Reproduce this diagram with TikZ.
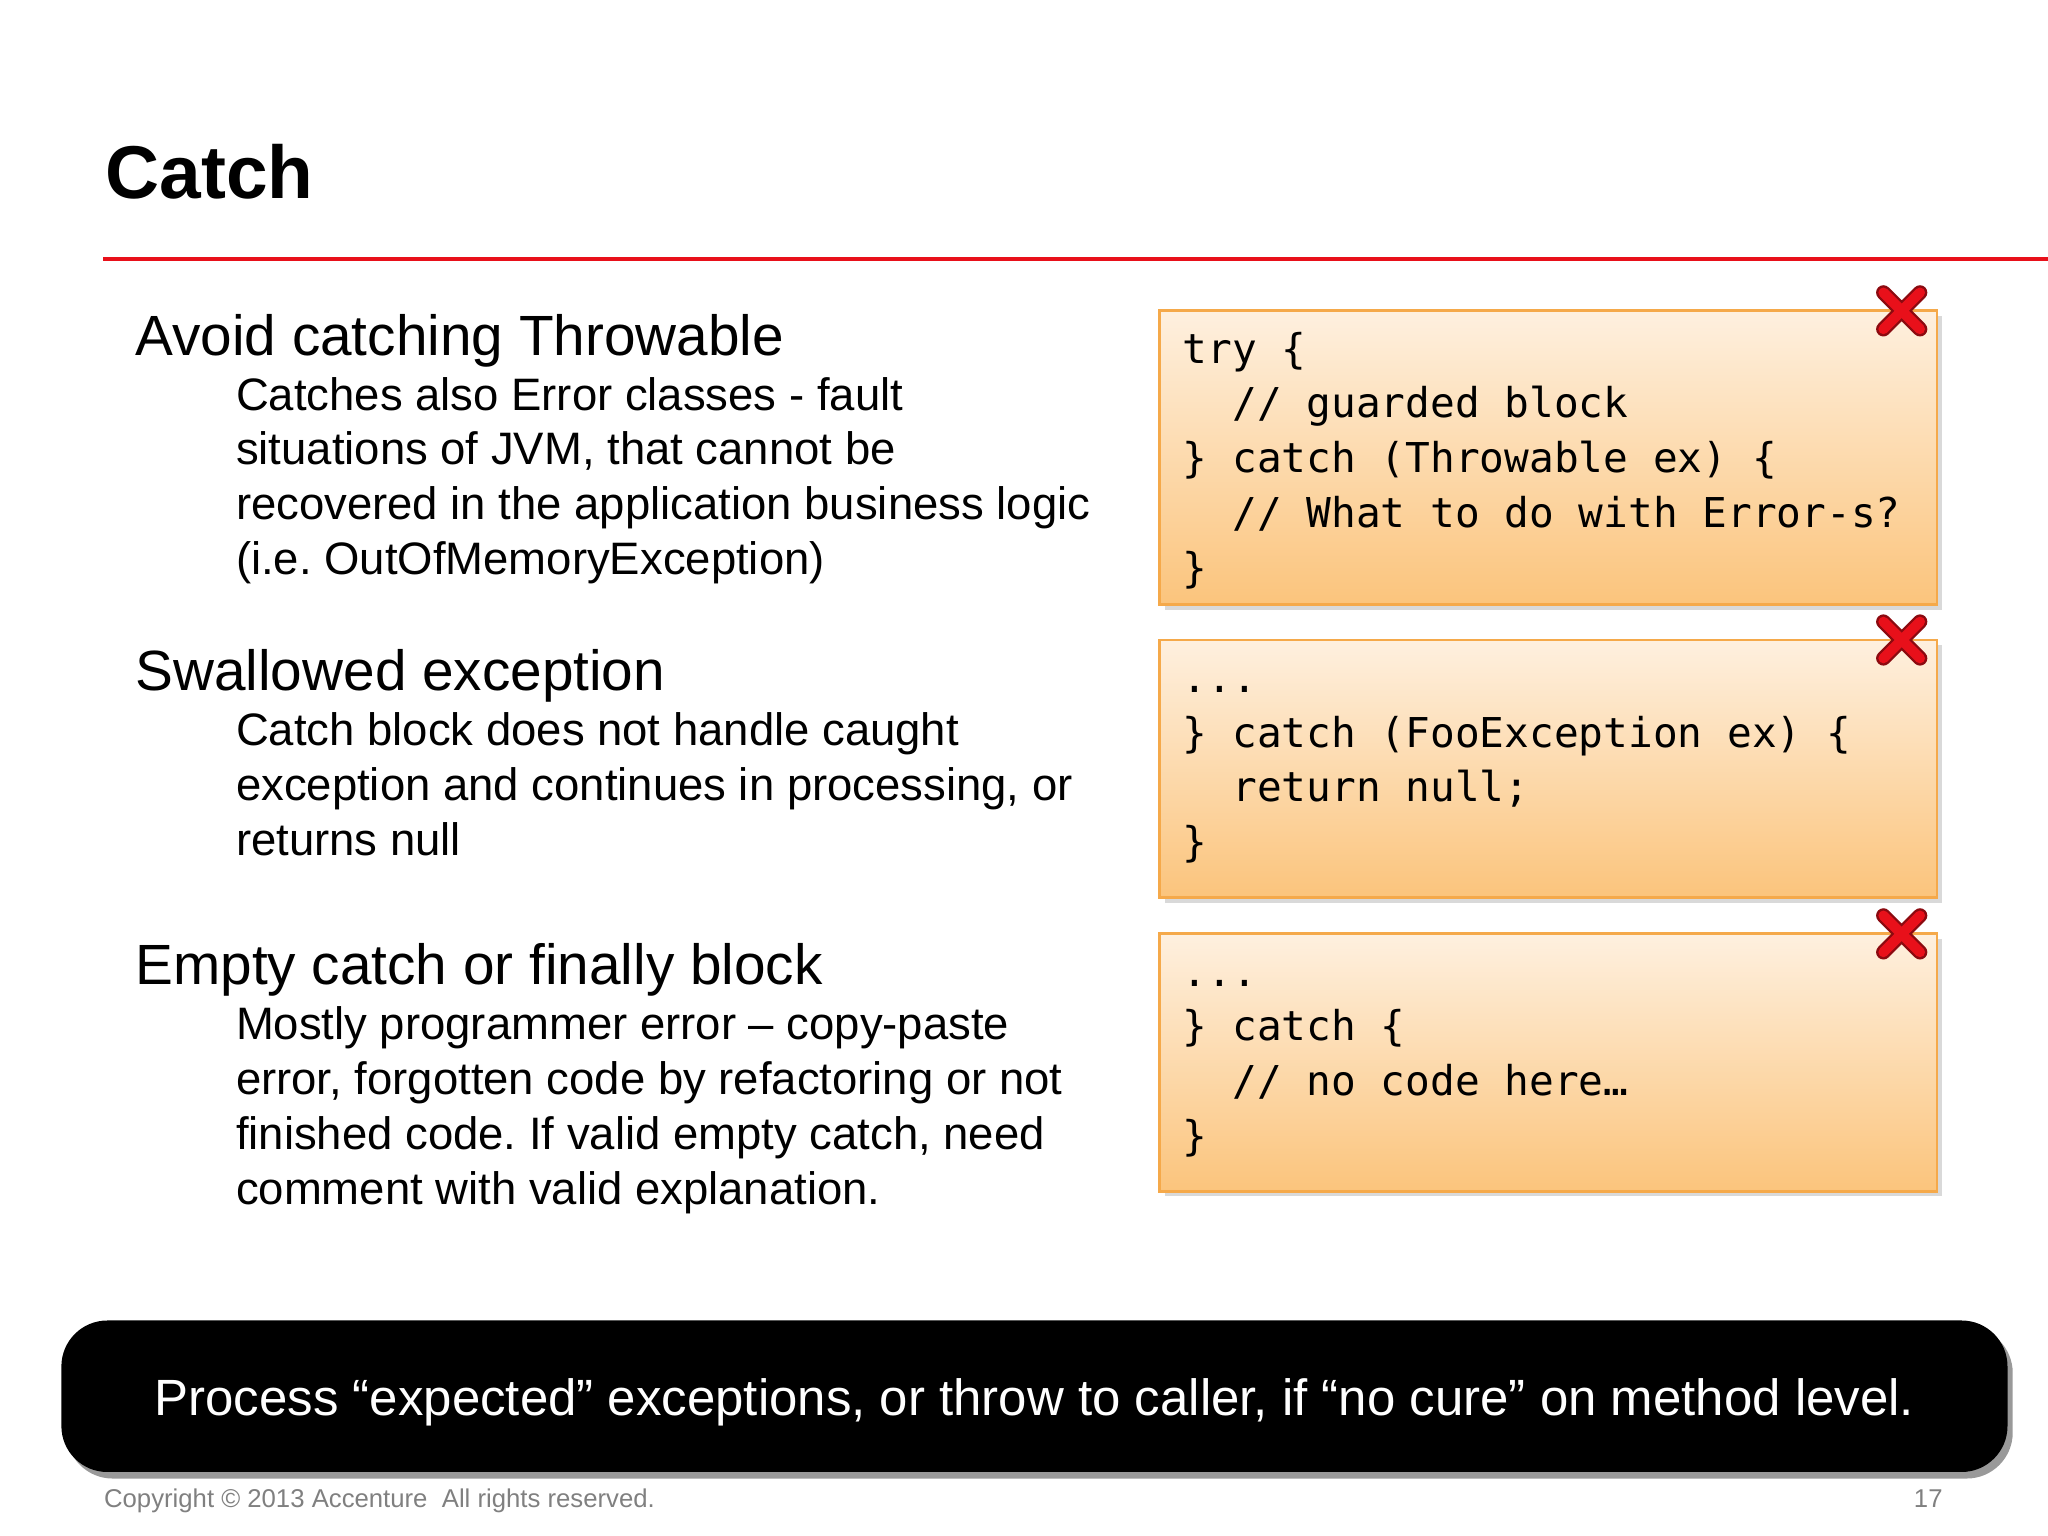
\documentclass[tikz,border=0pt]{standalone}
\usepackage{fontspec}
\setmainfont{Liberation Sans}
\newfontfamily\codefont{DejaVu Sans Mono}
\usetikzlibrary{shadows}
\frenchspacing
\definecolor{boxedge}{HTML}{F5A94A}
\definecolor{boxtop}{HTML}{FEF0DF}
\definecolor{boxbot}{HTML}{FBC47C}
\definecolor{xred}{HTML}{E8101A}
\tikzset{
 px/.style={x=0.01cm,y=-0.01cm},
 head/.style={anchor=base west,font=\fontsize{12.35}{14}\selectfont,inner sep=0},
 body/.style={anchor=base west,font=\fontsize{9.9}{12}\selectfont,inner sep=0},
 code/.style={anchor=base west,font=\codefont\fontsize{8.95}{12}\selectfont,inner sep=0},
 codebox/.style={draw=boxedge,line width=0.6pt,top color=boxtop,bottom color=boxbot,drop shadow={opacity=0.3,shadow xshift=0.4mm,shadow yshift=-0.4mm}},
}
\newcommand{\redx}[2]{%
 \draw[line width=3.2pt,color=xred!60!black,line cap=round] (#1-14,#2-14) -- (#1+14,#2+14) (#1-14,#2+14) -- (#1+14,#2-14);
 \draw[line width=2.2pt,color=xred,line cap=round] (#1-14,#2-14) -- (#1+14,#2+14) (#1-14,#2+14) -- (#1+14,#2-14);}
\begin{document}
\begin{tikzpicture}[px]
\useasboundingbox (0,0) rectangle (1568,1176);
\node[anchor=base west,inner sep=0,font=\bfseries\fontsize{16.3}{20}\selectfont] (title) at (80,152) {Catch};
\draw[xred,line width=0.9pt] (79,198) coordinate (l1) -- (1568,198) coordinate (l2);
% left text
\node[head] (h1) at (103,272) {Avoid catching Throwable};
\foreach \t [count=\i] in {Catches also Error classes - fault,situations of JVM{,} that cannot be,recovered in the application business logic,(i.e. OutOfMemoryException)}
  \node[body] (a\i) at (180,272+42*\i) {\t};
\node[head] (h2) at (103,529) {Swallowed exception};
\foreach \t [count=\i] in {Catch block does not handle caught,exception and continues in processing{,} or,returns null}
  \node[body] (b\i) at (180,529+42*\i) {\t};
\node[head] (h3) at (103,754) {Empty catch or finally block};
\foreach \t [count=\i] in {Mostly programmer error – copy-paste,error{,} forgotten code by refactoring or not,finished code. If valid empty catch{,} need,comment with valid explanation.}
  \node[body] (c\i) at (180,754+42*\i) {\t};
% code boxes
\path[codebox] (888,238) rectangle (1483,463);
\path[codebox] (888,490) rectangle (1483,687);
\path[codebox] (888,715) rectangle (1483,912);
\node[code] (k1) at (905,278) {try \{};
\node[code] (k2) at (905,320) {\ \ // guarded block};
\node[code] (k3) at (905,362) {\} catch (Throwable ex) \{};
\node[code] (k4) at (905,404) {\ \ // What to do with Error-s?};
\node[code] (k5) at (905,446) {\}};
\node[code] (m1) at (905,530) {...};
\node[code] (m2) at (905,572) {\} catch (FooException ex) \{};
\node[code] (m3) at (905,614) {\ \ return null;};
\node[code] (m4) at (905,656) {\}};
\node[code] (n1) at (905,755) {...};
\node[code] (n2) at (905,797) {\} catch \{};
\node[code] (n3) at (905,839) {\ \ // no code here…};
\node[code] (n4) at (905,881) {\}};
\redx{1456}{238}
\redx{1456}{490}
\redx{1456}{715}
% banner
\fill[black!40,rounded corners=10] (51,1016) rectangle (1541,1132);
\fill[black,rounded corners=10] (47,1011) rectangle (1537,1127);
\node[anchor=base,text=white,inner sep=0,font=\fontsize{11.1}{13}\selectfont] (ban) at (792,1084) {Process “expected” exceptions, or throw to caller, if “no cure” on method level.};
\node[anchor=base west,inner sep=0,text=black!50,font=\fontsize{5.6}{7}\selectfont] (copy) at (79,1154) {Copyright © 2013 Accenture\ \ All rights reserved.};
\node[anchor=base east,inner sep=0,text=black!50,font=\fontsize{5.6}{7}\selectfont] (pg) at (1488,1154) {17};
\end{tikzpicture}
\end{document}
